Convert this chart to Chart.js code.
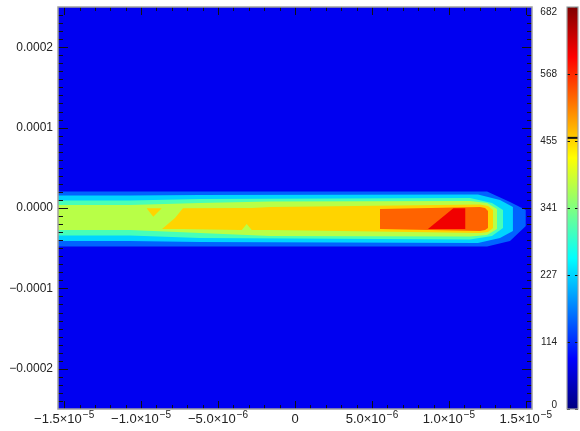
<!DOCTYPE html>
<html><head><meta charset="utf-8">
<script src="https://cdn.jsdelivr.net/npm/chart.js@4"></script>
<style>html,body{margin:0;padding:0;background:#fff}#wrap{width:580px;height:431px;position:relative}</style>
</head><body><div id="wrap"><canvas id="c"></canvas></div>
<script>
// ---- axes ----
const xRange = [-15.4e-6, 15.4e-6];
const yRange = [-2.5e-4, 2.5e-4];
const xTickValues = [-15e-6, -10e-6, -5e-6, 0, 5e-6, 10e-6, 15e-6];
const xTickBase = ['−1.5×10', '−1.0×10', '−5.0×10', '0', '5.0×10', '1.0×10', '1.5×10'];
const xTickExp = ['−5', '−5', '−6', '', '−6', '−5', '−5'];
const yTickValues = [-2e-4, -1e-4, 0, 1e-4, 2e-4];
const yTickLabels = ['−0.0002', '−0.0001', '0.0000', '0.0001', '0.0002'];
// ---- colour bar ----
const colorbarMax = 682;
const colorbarTickValues = [0, 114, 227, 341, 455, 568, 682];
const colorbarTickLabels = ['0', '114', '227', '341', '455', '568', '682'];
const colorbarMarker = 460;
// contour fill levels (values on the colour bar)
const levelValues = [75.8, 151.6, 227.3, 303.1, 378.9, 454.7, 530.4, 606.2];

// ---- contour regions: x, upper boundary, lower boundary (metres) ----
const bgX = [-15.4e-6, 15.4e-6];
const bgTop = [250e-6, 250e-6];
const bgBottom = [-250e-6, -250e-6];

const blueX = [-15.4e-6, 12.48e-6, 13.97e-6, 15.0e-6];
const blueTop = [20.5e-6, 20.5e-6, 7.5e-6, -2.5e-6];
const blueBottom = [-47.9e-6, -47.9e-6, -41.0e-6, -22.4e-6];

const cyanX = [-15.4e-6, -10.72e-6, -6.17e-6, 11.89e-6, 13.32e-6, 14.16e-6];
const cyanTop = [15.5e-6, 15.5e-6, 16.2e-6, 16.8e-6, 10.0e-6, 1.2e-6];
const cyanBottom = [-41.0e-6, -41.0e-6, -42.3e-6, -43.5e-6, -37.3e-6, -28.6e-6];

const aquaX = [-15.4e-6, -10.72e-6, -6.17e-6, 11.37e-6, 12.80e-6, 13.52e-6];
const aquaTop = [9.3e-6, 9.3e-6, 11.2e-6, 12.4e-6, 6.2e-6, -2.5e-6];
const aquaBottom = [-34.2e-6, -34.2e-6, -37.3e-6, -39.2e-6, -34.8e-6, -24.9e-6];

const greenX = [-15.4e-6, -10.72e-6, -6.17e-6, -1.62e-6, 11.37e-6, 12.48e-6, 13.13e-6];
const greenTop = [3.7e-6, 3.7e-6, 6.2e-6, 8.1e-6, 8.7e-6, 6.2e-6, -1.2e-6];
const greenBottom = [-27.4e-6, -27.4e-6, -31.1e-6, -34.8e-6, -35.4e-6, -33.6e-6, -26.1e-6];

const yellowX = [-8.64e-6, -7.80e-6, -7.28e-6, -3.46e-6, -3.14e-6, -2.81e-6, -1.62e-6, 12.02e-6, 12.54e-6, 12.87e-6];
const yellowTop = [-26.1e-6, -12.4e-6, -0.4e-6, 0, 0, 0, 1.2e-6, 4.4e-6, 2.5e-6, -2.5e-6];
const yellowBottom = [-26.1e-6, -26.1e-6, -26.1e-6, -27.4e-6, -19.9e-6, -27.4e-6, -27.4e-6, -31.1e-6, -29.9e-6, -24.9e-6];

const yellowIsleX = [-9.64e-6, -9.21e-6, -8.66e-6];
const yellowIsleTop = [-0.4e-6, -0.4e-6, -0.4e-6];
const yellowIsleBottom = [-0.4e-6, -10.8e-6, -0.4e-6];

const orangeX = [5.52e-6, 8.77e-6, 12.02e-6, 12.35e-6, 12.54e-6];
const orangeTop = [-1.2e-6, 0, 1.2e-6, 0, -3.7e-6];
const orangeBottom = [-26.1e-6, -27.4e-6, -28.6e-6, -27.4e-6, -24.9e-6];

const redX = [8.64e-6, 10.29e-6, 11.08e-6];
const redTop = [-26.1e-6, -0.4e-6, -0.4e-6];
const redBottom = [-26.1e-6, -26.1e-6, -26.1e-6];

const regions = [
  {level: 0, x: bgX, top: bgTop, bottom: bgBottom},
  {level: 1, x: blueX, top: blueTop, bottom: blueBottom},
  {level: 2, x: cyanX, top: cyanTop, bottom: cyanBottom},
  {level: 3, x: aquaX, top: aquaTop, bottom: aquaBottom},
  {level: 4, x: greenX, top: greenTop, bottom: greenBottom},
  {level: 5, x: yellowX, top: yellowTop, bottom: yellowBottom},
  {level: 5, x: yellowIsleX, top: yellowIsleTop, bottom: yellowIsleBottom},
  {level: 6, x: orangeX, top: orangeTop, bottom: orangeBottom},
  {level: 7, x: redX, top: redTop, bottom: redBottom}
];

function jetRGB(t) {
  const c = v => Math.round(255 * Math.max(0, Math.min(1, v)));
  return [c(1.5 - Math.abs(4 * t - 3)), c(1.5 - Math.abs(4 * t - 2)), c(1.5 - Math.abs(4 * t - 1))];
}
function jet(t) { const [r, g, b] = jetRGB(t); return `rgb(${r},${g},${b})`; }

const datasets = [];
regions.forEach((reg, r) => {
  const col = jet(levelValues[reg.level] / colorbarMax);
  const ord = regions.length - r;
  datasets.push({
    data: reg.x.map((xv, i) => ({x: xv, y: reg.top[i]})),
    fill: '+1', backgroundColor: col, borderWidth: 0, pointRadius: 0, tension: 0, order: ord
  });
  datasets.push({
    data: reg.x.map((xv, i) => ({x: xv, y: reg.bottom[i]})),
    fill: false, borderWidth: 0, pointRadius: 0, tension: 0, order: ord
  });
});

const FONT = '"Liberation Sans", Arial, sans-serif';

const frameTicks = {
  id: 'frameTicks',
  afterDatasetsDraw(chart) {
    const {ctx, chartArea: a, scales: {x, y}} = chart;
    ctx.save();
    ctx.strokeStyle = '#111';
    ctx.lineWidth = 1;
    ctx.beginPath();
    for (let i = -15; i <= 15; i++) {
      const px = Math.round(x.getPixelForValue(i * 1e-6)) + 0.5;
      const len = (i % 5 === 0) ? 8 : 4;
      ctx.moveTo(px, a.bottom); ctx.lineTo(px, a.bottom - len);
      ctx.moveTo(px, a.top); ctx.lineTo(px, a.top + len);
    }
    for (let i = -24; i <= 24; i++) {
      const py = Math.round(y.getPixelForValue(i * 1e-5)) + 0.5;
      const len = (i % 10 === 0) ? 10 : 5;
      ctx.moveTo(a.left, py); ctx.lineTo(a.left + len, py);
      ctx.moveTo(a.right, py); ctx.lineTo(a.right - len, py);
    }
    ctx.stroke();
    ctx.strokeStyle = '#a0a0a0';
    ctx.lineWidth = 1.5;
    ctx.strokeRect(a.left, a.top, a.right - a.left, a.bottom - a.top);

    // x tick labels with raised exponents
    ctx.fillStyle = '#222';
    ctx.textBaseline = 'alphabetic';
    ctx.textAlign = 'left';
    const baseFont = '13px ' + FONT, expFont = '10px ' + FONT;
    xTickValues.forEach((v, i) => {
      ctx.font = baseFont;
      const wb = ctx.measureText(xTickBase[i]).width;
      ctx.font = expFont;
      const we = xTickExp[i] ? ctx.measureText(xTickExp[i]).width + 1 : 0;
      const cx = x.getPixelForValue(v);
      const x0 = cx - (wb + we) / 2;
      const base = a.bottom + 14;
      ctx.font = baseFont;
      ctx.fillText(xTickBase[i], x0, base);
      if (xTickExp[i]) {
        ctx.font = expFont;
        ctx.fillText(xTickExp[i], x0 + wb + 1, base - 5);
      }
    });

    // colour bar
    const cb = chart.scales.cb;
    const bx = cb.right - 13, bw = 11;
    const top = cb.getPixelForValue(colorbarMax), bot = cb.getPixelForValue(0);
    const g = ctx.createLinearGradient(0, bot, 0, top);
    [0, 1 / 8, 3 / 8, 5 / 8, 7 / 8, 1].forEach(t => g.addColorStop(t, jet(t)));
    ctx.fillStyle = g;
    ctx.fillRect(bx, top, bw, bot - top);
    ctx.strokeStyle = '#111';
    ctx.lineWidth = 1;
    ctx.beginPath();
    colorbarTickValues.forEach(v => {
      const py = Math.round(cb.getPixelForValue(v)) + 0.5;
      ctx.moveTo(bx, py); ctx.lineTo(bx + 3, py);
      ctx.moveTo(bx + bw, py); ctx.lineTo(bx + bw - 3, py);
    });
    ctx.stroke();
    ctx.lineWidth = 2;
    ctx.beginPath();
    const my = cb.getPixelForValue(colorbarMarker);
    ctx.moveTo(bx, my); ctx.lineTo(bx + bw, my);
    ctx.stroke();
    ctx.strokeStyle = '#a0a0a0';
    ctx.lineWidth = 1.2;
    ctx.strokeRect(bx, top, bw, bot - top);
    // colour bar labels
    ctx.fillStyle = '#222';
    ctx.font = '10px ' + FONT;
    ctx.textAlign = 'right';
    ctx.textBaseline = 'middle';
    colorbarTickValues.forEach((v, i) => {
      const py = Math.min(bot - 4, Math.max(top + 5, cb.getPixelForValue(v)));
      ctx.fillText(colorbarTickLabels[i], bx - 10, py);
    });
    ctx.restore();
  }
};

const noPad = s => { s.paddingTop = 0; s.paddingBottom = 0; s.paddingLeft = 0; s.paddingRight = 0; };

new Chart(document.getElementById('c'), {
  type: 'line',
  data: {datasets},
  options: {
    responsive: true, maintainAspectRatio: false, animation: false,
    layout: {padding: {top: 7, right: 0, left: 0, bottom: 0}},
    plugins: {legend: {display: false}, tooltip: {enabled: false}},
    scales: {
      x: {
        type: 'linear', min: xRange[0], max: xRange[1],
        grid: {display: false, drawTicks: false}, border: {display: false},
        afterBuildTicks: s => { s.ticks = xTickValues.map(v => ({value: v})); },
        afterFit: s => { s.height = 22; noPad(s); },
        ticks: {display: false}
      },
      y: {
        type: 'linear', position: 'left', min: yRange[0], max: yRange[1],
        grid: {display: false, drawTicks: false}, border: {display: false},
        afterBuildTicks: s => { s.ticks = yTickValues.map(v => ({value: v})); },
        afterFit: s => { s.width = 58; noPad(s); },
        ticks: {autoSkip: false, padding: 5, color: '#222',
          font: {family: FONT, size: 12}, callback: (v, i) => yTickLabels[i]}
      },
      cb: {
        type: 'linear', position: 'right', min: 0, max: colorbarMax,
        grid: {display: false, drawTicks: false}, border: {display: false},
        afterFit: s => { s.width = 48; noPad(s); },
        ticks: {display: false}
      }
    }
  },
  plugins: [frameTicks]
});
</script>
</body></html>
